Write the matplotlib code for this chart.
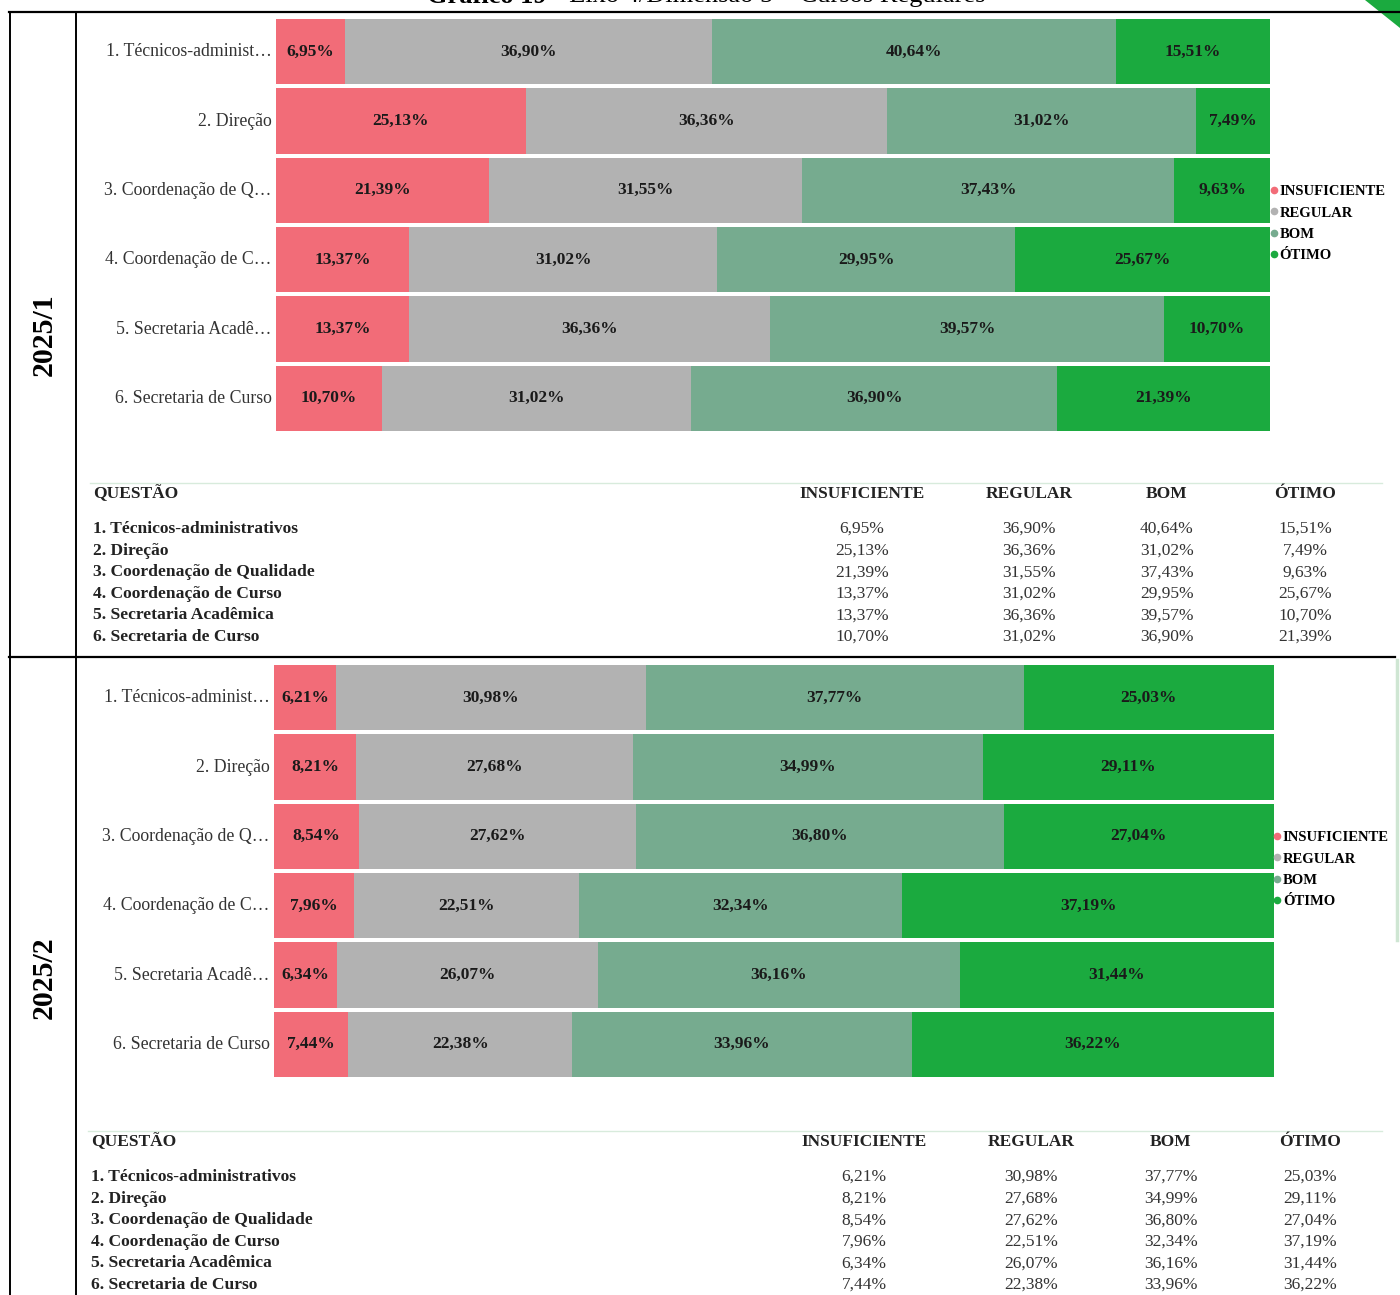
import matplotlib
matplotlib.use("Agg")
import matplotlib.pyplot as plt
from matplotlib.lines import Line2D
from matplotlib.patches import Polygon
import numpy as np

plt.rcParams['font.family'] = ['Liberation Serif', 'DejaVu Serif']

# ---------------- data ----------------
levels = ["INSUFICIENTE", "REGULAR", "BOM", "ÓTIMO"]
colors = ["#F26C78", "#B2B2B2", "#76AB8F", "#1BAA3F"]
short_labels = ["1. Técnicos-administ…", "2. Direção", "3. Coordenação de Q…",
                "4. Coordenação de C…", "5. Secretaria Acadê…", "6. Secretaria de Curso"]
full_labels = ["1. Técnicos-administrativos", "2. Direção", "3. Coordenação de Qualidade",
               "4. Coordenação de Curso", "5. Secretaria Acadêmica", "6. Secretaria de Curso"]
periods = ["2025/1", "2025/2"]

insuf_1 = [6.95, 25.13, 21.39, 13.37, 13.37, 10.70]
regular_1 = [36.90, 36.36, 31.55, 31.02, 36.36, 31.02]
bom_1 = [40.64, 31.02, 37.43, 29.95, 39.57, 36.90]
otimo_1 = [15.51, 7.49, 9.63, 25.67, 10.70, 21.39]

insuf_2 = [6.21, 8.21, 8.54, 7.96, 6.34, 7.44]
regular_2 = [30.98, 27.68, 27.62, 22.51, 26.07, 22.38]
bom_2 = [37.77, 34.99, 36.80, 32.34, 36.16, 33.96]
otimo_2 = [25.03, 29.11, 27.04, 37.19, 31.44, 36.22]

title_bold = "Gráfico 19"
title_rest = " - Eixo 4/Dimensão 5 – Cursos Regulares"

# ---------------- layout helpers ----------------
W, H = 1400, 1295
fig = plt.figure(figsize=(W / 100, H / 100), dpi=100)
fig.patch.set_facecolor("white")

def fx(x):
    return x / W

def fy(y):
    return 1 - y / H

def fmt(v):
    return f"{v:.2f}".replace(".", ",") + "%"

def hline(y, x0, x1, **kw):
    fig.add_artist(Line2D([fx(x0), fx(x1)], [fy(y), fy(y)], transform=fig.transFigure, **kw))

def vline(x, y0, y1, **kw):
    fig.add_artist(Line2D([fx(x), fx(x)], [fy(y0), fy(y1)], transform=fig.transFigure, **kw))

hline(12, 9, 1400, color="black", lw=1.6)
hline(657, 9, 1395, color="black", lw=1.6)
vline(10, 12, 1295, color="black", lw=1.4)
vline(76, 12, 1295, color="black", lw=1.4)
# decorative green corner / strip
fig.add_artist(Polygon([[fx(1365), fy(0)], [fx(1400), fy(0)], [fx(1400), fy(28)]],
                       closed=True, transform=fig.transFigure, color="#1BAA3F", lw=0))
vline(1397, 660, 940, color="#cfe6d3", lw=2.5)

panels = [
    dict(vals=[insuf_1, regular_1, bom_1, otimo_1], x0=276, x1=1270, y0=17, y1=433,
         label_y=335, leg_y=185, leg_x=1271, tline=483, head=494, rows0=528, qx=93,
         cols=[862, 1029, 1167, 1305]),
    dict(vals=[insuf_2, regular_2, bom_2, otimo_2], x0=274, x1=1274, y0=663, y1=1079,
         label_y=978, leg_y=831, leg_x=1274, tline=1131, head=1142, rows0=1176, qx=91,
         cols=[864, 1031, 1171, 1310]),
]

for p, period in zip(panels, periods):
    ax = fig.add_axes([fx(p["x0"]), fy(p["y1"]), (p["x1"] - p["x0"]) / W, (p["y1"] - p["y0"]) / H])
    ax.set_xlim(0, 100)
    ax.set_ylim(len(short_labels) - 0.5, -0.5)
    ax.axis("off")
    y = np.arange(len(short_labels))
    left = np.zeros(len(short_labels))
    for lev, col, vals in zip(levels, colors, p["vals"]):
        vals = np.array(vals)
        ax.barh(y, vals, left=left, height=0.945, color=col, edgecolor="none")
        for yi, l, v in zip(y, left, vals):
            ax.text(l + v / 2, yi, fmt(v), ha="center", va="center",
                    fontsize=12.5, fontweight="bold", color="#1a1a1a")
        left = left + vals
    for yi, lab in zip(y, short_labels):
        ax.text(-0.45, yi, lab, ha="right", va="center", fontsize=12.8, color="#333333")

    # period label
    fig.text(fx(44), fy(p["label_y"]), period, rotation=90, ha="center", va="center",
             fontsize=21.5, fontweight="bold")

    # legend
    handles = [Line2D([], [], marker="o", ls="none", markersize=4.5, color=c) for c in colors]
    fig.legend(handles, levels, loc="upper left", bbox_to_anchor=(fx(p["leg_x"]), fy(p["leg_y"])),
               frameon=False, prop=dict(size=10.5, weight="bold"), handlelength=0.4,
               handletextpad=0.2, labelspacing=0.56, borderpad=0, borderaxespad=0)

    # table
    hline(p["tline"], p["qx"] - 3, 1382, color="#d8ebdc", lw=1.0)
    fig.text(fx(p["qx"]), fy(p["head"]), "QUESTÃO", ha="left", va="center",
             fontsize=12.5, fontweight="bold", color="#222222")
    for cx, lev in zip(p["cols"], levels):
        fig.text(fx(cx), fy(p["head"]), lev, ha="center", va="center",
                 fontsize=12.5, fontweight="bold", color="#222222")
    for i, lab in enumerate(full_labels):
        ry = p["rows0"] + 1 + i * 21.6
        fig.text(fx(p["qx"]), fy(ry), lab, ha="left", va="center",
                 fontsize=12.6, fontweight="bold", color="#222222")
        for cx, vals in zip(p["cols"], p["vals"]):
            fig.text(fx(cx), fy(ry), fmt(vals[i]), ha="center", va="center",
                     fontsize=12.5, color="#333333")

# partially visible title at the top edge (cut off in the reference as well)
fig.canvas.draw()
r = fig.canvas.get_renderer()
t1 = fig.text(0, fy(-4), title_bold, ha="left", va="center", fontsize=19, fontweight="bold")
t2 = fig.text(0, fy(-4), title_rest, ha="left", va="center", fontsize=19)
w1 = t1.get_window_extent(r).width
w2 = t2.get_window_extent(r).width
start = 706 - (w1 + w2) / 2
t1.set_x(fx(start))
t2.set_x(fx(start + w1))

fig.savefig("out.png", dpi=100, facecolor="white")
